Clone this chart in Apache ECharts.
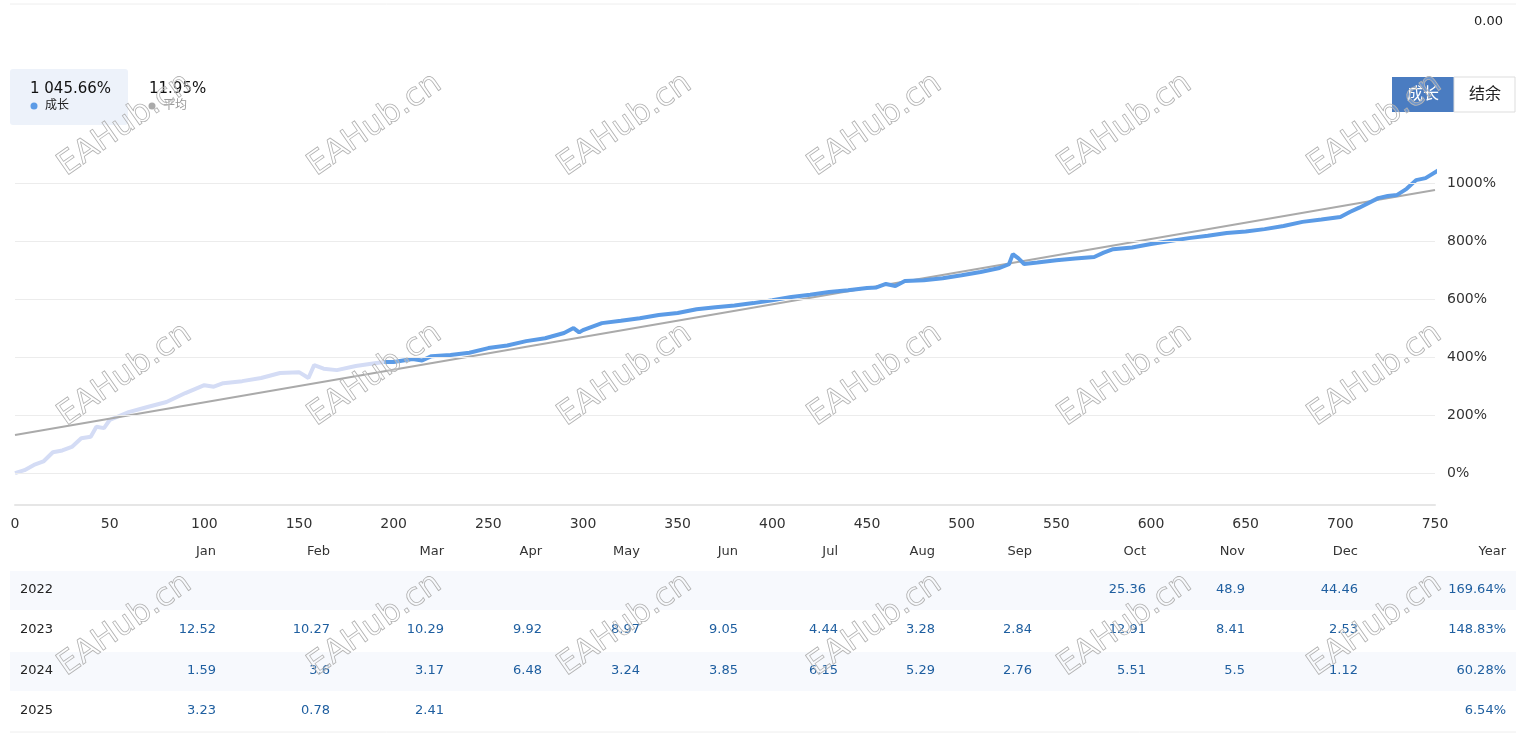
<!DOCTYPE html>
<html><head><meta charset="utf-8">
<script src="https://cdn.jsdelivr.net/npm/echarts@6/dist/echarts.min.js"></script>
<style>html,body{margin:0;padding:0;background:#fff}#c{width:1524px;height:735px}</style>
</head><body><div id="c"></div>
<script>
const growthLight = [[0,0],[5,10],[10,28],[15,40],[20,72],[25,78],[30,90],[35,120],[40,125],[43,160],[47,155],[50,183],[60,210],[70,228],[80,245],[90,276],[100,303],[105,298],[110,310],[120,317],[130,328],[140,345],[150,348],[155,328],[158,372],[163,360],[170,355],[180,369],[190,379],[195,383]];
const growthMain = [[195,383],[200,383],[210,393],[215,388],[220,403],[230,407],[240,415],[250,431],[260,440],[270,455],[280,465],[290,483],[295,500],[298,485],[300,493],[310,517],[320,525],[330,534],[340,545],[350,552],[360,565],[370,572],[380,578],[390,586],[400,596],[410,607],[420,615],[430,624],[440,630],[450,638],[455,640],[460,652],[465,645],[470,662],[480,665],[490,672],[500,682],[510,693],[520,707],[525,720],[527,755],[530,740],[533,721],[540,726],[550,734],[560,740],[570,745],[575,760],[580,772],[590,778],[600,790],[610,800],[620,810],[630,818],[640,828],[650,833],[660,841],[670,852],[680,866],[690,874],[700,883],[705,900],[710,915],[720,948],[725,955],[730,959],[735,980],[740,1010],[745,1017],[752,1045]];
const trend = [[0,131],[750,976]];
const yTicks = [0,200,400,600,800,1000];
const months = ['Jan','Feb','Mar','Apr','May','Jun','Jul','Aug','Sep','Oct','Nov','Dec','Year'];
const years = ['2022','2023','2024','2025'];
const table = [
 ['','','','','','','','','','25.36','48.9','44.46','169.64%'],
 ['12.52','10.27','10.29','9.92','8.97','9.05','4.44','3.28','2.84','12.91','8.41','2.53','148.83%'],
 ['1.59','3.6','3.17','6.48','3.24','3.85','6.15','5.29','2.76','5.51','5.5','1.12','60.28%'],
 ['3.23','0.78','2.41','','','','','','','','','','6.54%']
];
const colRight = [216,330,444,542,640,738,838,935,1032,1146,1245,1358,1506];
const rowY = [590,630,671,711];
const F = 'Tahoma, "DejaVu Sans", "Noto Sans CJK SC", sans-serif';

const g = [];
[0,2].forEach(i=>g.push({type:'rect',shape:{x:10,y:rowY[i]-19,width:1506,height:39},style:{fill:'#f7f9fd'},z:0}));
months.forEach((m,i)=>g.push({type:'text',x:colRight[i],y:552,style:{text:m,font:'13px '+F,fill:'#333',align:'right',verticalAlign:'middle'}}));
years.forEach((y,r)=>{
  g.push({type:'text',x:20,y:rowY[r],style:{text:y,font:'13px '+F,fill:'#222',verticalAlign:'middle'}});
  table[r].forEach((v,i)=>{ if(v) g.push({type:'text',x:colRight[i],y:rowY[r],style:{text:v,font:'13px '+F,fill:'#1f5fa0',align:'right',verticalAlign:'middle'}}); });
});
g.push({type:'line',shape:{x1:10,y1:732,x2:1516,y2:732},style:{stroke:'#eee'}});
g.push({type:'line',shape:{x1:10,y1:4,x2:1516,y2:4},style:{stroke:'#eee'}});
g.push({type:'text',x:1503,y:22,style:{text:'0.00',font:'13px '+F,fill:'#222',align:'right',verticalAlign:'middle'}});
g.push({type:'rect',shape:{x:10,y:69,width:118,height:56,r:3},style:{fill:'#edf2fa'}});
g.push({type:'text',x:30,y:89,style:{text:'1 045.66%',font:'15px '+F,fill:'#111',verticalAlign:'middle'}});
g.push({type:'circle',shape:{cx:34,cy:106,r:3.5},style:{fill:'#5b9be6'}});
g.push({type:'text',x:45,y:106,style:{text:'成长',font:'12px '+F,fill:'#222',verticalAlign:'middle'}});
g.push({type:'text',x:149,y:89,style:{text:'11.95%',font:'15px '+F,fill:'#111',verticalAlign:'middle'}});
g.push({type:'circle',shape:{cx:152,cy:106,r:3.5},style:{fill:'#aaa'}});
g.push({type:'text',x:163,y:106,style:{text:'平均',font:'12px '+F,fill:'#999',verticalAlign:'middle'}});
g.push({type:'rect',shape:{x:1392,y:77,width:62,height:35},style:{fill:'#4a7cc1'}});
g.push({type:'text',x:1423,y:95,style:{text:'成长',font:'16px '+F,fill:'#fff',align:'center',verticalAlign:'middle'}});
g.push({type:'rect',shape:{x:1454,y:77,width:61,height:35},style:{fill:'#fff',stroke:'#ddd'}});
g.push({type:'text',x:1485,y:95,style:{text:'结余',font:'16px '+F,fill:'#222',align:'center',verticalAlign:'middle'}});
for(let r=0;r<3;r++) for(let c=0;c<6;c++){
  g.push({type:'text',x:125+250*c,y:125+250*r,rotation:Math.PI*35/180,z:100,
    style:{text:'EAHub.cn',font:'32px "DejaVu Sans", sans-serif',fill:'rgba(255,255,255,0.2)',stroke:'#aaa',lineWidth:0.8,align:'center',verticalAlign:'middle'}});
}

const chart = echarts.init(document.getElementById('c'));
chart.setOption({
  animation:false,
  grid:{left:15,right:89,top:125,bottom:230},
  xAxis:{type:'value',min:0,max:750,interval:50,
    axisLine:{show:true,onZero:false,lineStyle:{color:'#e6e6e6',width:2}},axisTick:{show:false},splitLine:{show:false},
    axisLabel:{color:'#333',fontSize:14,fontFamily:F,margin:12,showMaxLabel:true}},
  yAxis:{type:'value',min:-110,max:1200,position:'right',
    axisLine:{show:false},axisTick:{show:false},splitLine:{show:false},
    axisLabel:{customValues:yTicks,formatter:v=>v+'%',color:'#333',fontSize:14,fontFamily:F,margin:12}},
  graphic:g,
  series:[
    {type:'line',data:growthLight,showSymbol:false,lineStyle:{color:'#d4dcf5',width:4},z:2,
     markLine:{silent:true,symbol:'none',label:{show:false},lineStyle:{color:'#ececec',type:'solid',width:1},data:yTicks.map(v=>({yAxis:v}))}},
    {type:'line',data:trend,showSymbol:false,lineStyle:{color:'#aaa',width:2},z:3},
    {type:'line',data:growthMain,showSymbol:false,lineStyle:{color:'#5b9be6',width:4},z:4}
  ]
});
</script></body></html>
